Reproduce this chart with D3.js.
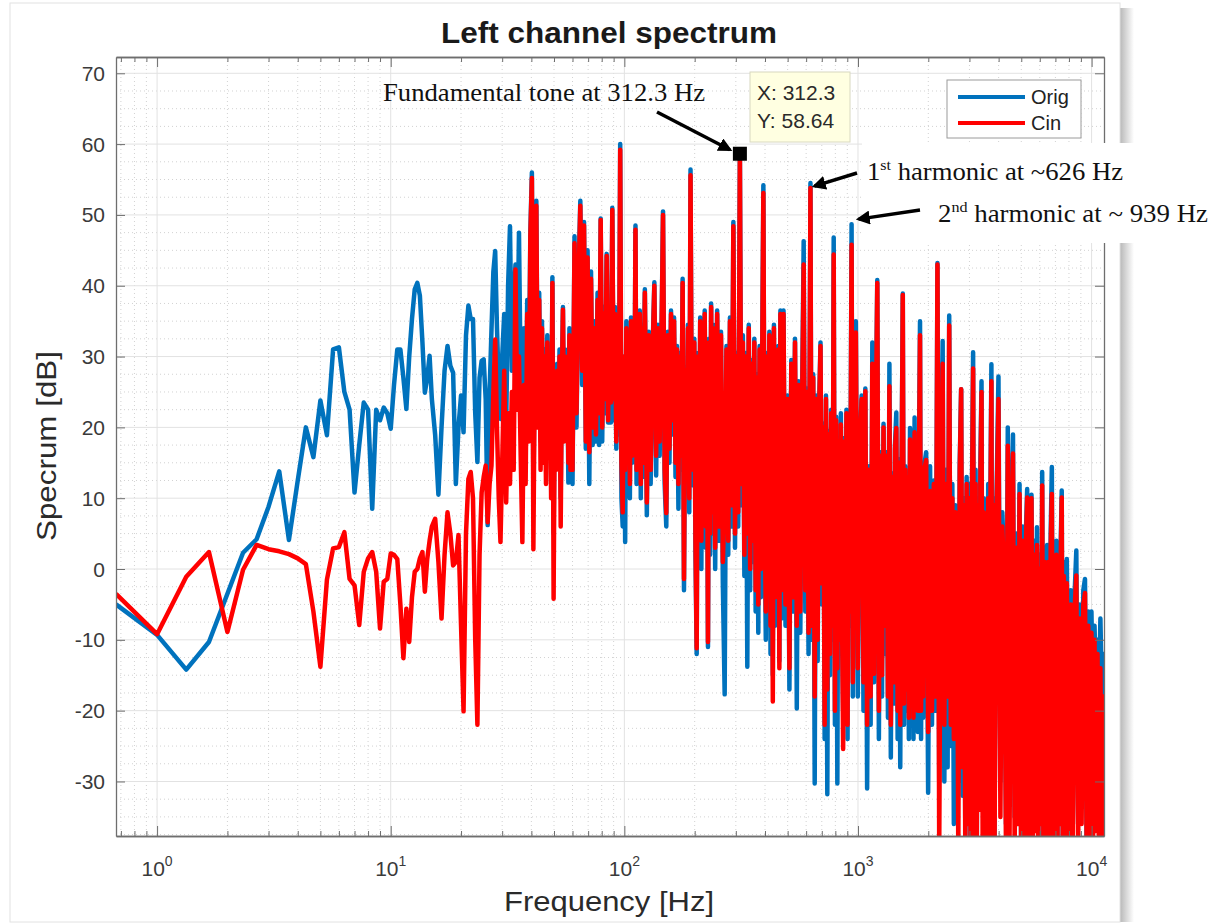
<!DOCTYPE html>
<html>
<head>
<meta charset="utf-8">
<script src="https://cdn.jsdelivr.net/npm/d3@7"></script>
<style>
  html, body { margin: 0; padding: 0; background: #fff; }
  svg { display: block; }
</style>
</head>
<body>
<svg id="chart" width="1227" height="923"></svg>
<script>
// frequency bins [Hz], shared by both spectra
var freqHz = [
  0.667,1,1.333,1.667,2,2.333,2.667,3,3.333,3.667,4,4.333,4.667,5,5.333,5.667,6,6.333,6.667,7,7.333,7.667,8,8.333,8.667,9,9.333,9.667,10,10.33,10.67,11,11.33,11.67,12,12.33,12.67,13,13.33,13.67,14,14.33,14.67,15,
  15.5,16,16.5,17,17.5,18,18.5,19,19.5,20,20.5,21,21.5,22,22.5,23,23.5,24,24.5,25,25.5,26,26.5,27,27.5,28,28.5,29,29.5,
  30,30.6,31.2,31.8,32.4,33,33.6,34.2,34.8,35.4,36,36.6,37.2,37.8,38.4,39,39.6,40.2,40.8,41.4,42,42.6,43.2,43.8,44.4,45,45.6,46.2,46.8,47.4,48,48.6,49.2,49.8,50.4,51,51.6,52.2,52.8,53.4,54,54.6,55.2,55.8,56.4,57,57.6,58.2,58.8,59.4,
  60,61.2,62.4,63.6,64.8,66,67.2,68.4,69.6,70.8,72,73.2,74.4,75.6,76.8,78,79.2,80.4,81.6,82.8,84,85.2,86.4,87.6,88.8,90,91.2,92.4,93.6,94.8,96,97.2,98.4,99.6,100.8,102,103.2,104.4,105.6,106.8,108,109.2,110.4,111.6,112.8,114,115.2,116.4,117.6,118.8,
  120,122.4,124.8,127.2,129.6,132,134.4,136.8,139.2,141.6,144,146.4,148.8,151.2,153.6,156,158.4,160.8,163.2,165.6,168,170.4,172.8,175.2,177.6,180,182.4,184.8,187.2,189.6,192,194.4,196.8,199.2,201.6,204,206.4,208.8,211.2,213.6,216,218.4,220.8,223.2,225.6,228,230.4,232.8,235.2,237.6,
  240,244.8,249.6,254.4,259.2,264,268.8,273.6,278.4,283.2,288,292.8,297.6,302.4,307.2,312.3,316.8,321.6,326.4,331.2,336,340.8,345.6,350.4,355.2,360,364.8,369.6,374.4,379.2,384,388.8,393.6,398.4,403.2,408,412.8,417.6,422.4,427.2,432,436.8,441.6,446.4,451.2,456,460.8,465.6,470.4,475.2,
  480,489.6,499.2,508.8,518.4,528,537.6,547.2,556.8,566.4,576,585.6,595.2,604.8,614.4,626,633.6,643.2,652.8,662.4,672,681.6,691.2,700.8,710.4,720,729.6,739.2,748.8,758.4,768,777.6,787.2,796.8,806.4,816,825.6,835.2,844.8,854.4,864,873.6,883.2,892.8,902.4,912,921.6,931.2,939,950.4,
  960,979.2,998.4,1017.6,1036.8,1056,1075.2,1094.4,1113.6,1132.8,1152,1171.2,1190.4,1209.6,1228.8,1248,1267.2,1286.4,1305.6,1324.8,1344,1363.2,1382.4,1401.6,1420.8,1440,1459.2,1478.4,1497.6,1516.8,1536,1555.2,1574.4,1593.6,1612.8,1632,1651.2,1670.4,1689.6,1708.8,1728,1747.2,1766.4,1785.6,1804.8,1824,1843.2,1862.4,1881.6,1900.8,
  1920,1958.4,1996.8,2035.2,2073.6,2112,2150.4,2188.8,2227.2,2265.6,2304,2342.4,2380.8,2419.2,2457.6,2496,2534.4,2572.8,2611.2,2649.6,2688,2726.4,2764.8,2803.2,2841.6,2880,2918.4,2956.8,2995.2,3033.6,3072,3110.4,3148.8,3187.2,3225.6,3264,3302.4,3340.8,3379.2,3417.6,3456,3494.4,3532.8,3571.2,3609.6,3648,3686.4,3724.8,3763.2,3801.6,
  3840,3916.8,3993.6,4070.4,4147.2,4224,4300.8,4377.6,4454.4,4531.2,4608,4684.8,4761.6,4838.4,4915.2,4992,5068.8,5145.6,5222.4,5299.2,5376,5452.8,5529.6,5606.4,5683.2,5760,5836.8,5913.6,5990.4,6067.2,6144,6220.8,6297.6,6374.4,6451.2,6528,6604.8,6681.6,6758.4,6835.2,6912,6988.8,7065.6,7142.4,7219.2,7296,7372.8,7449.6,7526.4,7603.2,
  7680,7833.6,7987.2,8140.8,8294.4,8448,8601.6,8755.2,8908.8,9062.4,9216,9369.6,9523.2,9676.8,9830.4,9984,10137.6,10291.2,10444.8,10598.4,10752,10905.6,11059.2,11212.8,11300
];

// original signal spectrum [dB]
var origDb = [
  -5.0,-9.3,-14.2,-10.3,-3.5,2.3,4.2,8.8,13.8,4.1, 12.5,20,15.8,23.8,18.9,31,31.3,25,22.5,10.8,
  17.5,23.5,22.5,8.5,22.5,21,22.8,22,19.8,26, 31,31,27,22.6,30,35.3,39.5,40.4,38.6,32, 24.9,27,30.1,24,
  18.9,10.5,20,28,31.5,28.7,27.7,12,20,24.5, 19.3,33,37.2,35.3,35.3,22,15.1,27,29.4,29.6, 24,6.2,25,33.8,42,44.9,34,26,21.2,
  30,36,20,40,48.4,28,38,43,30,47.5, 26,20,34,22,38,25,47.5,56,10,32, 52,22,39,18,35,20,31,20,33,19, 29,12,41.2,5,25,15,29,17,31,10, 27,37,19,31,21,28,12.2,34,15,29,
  12,47,20,41,52,26,49,17,45,12, 42,17.5,35,18,39,17.5,49.5,18,37,22, 44.5,20.7,36,20.7,51,21,37,17,34,19, 60,10,6,30,3.8,35,14,32.5,10,35.5, 15,30.5,18,48.5,12,33.5,16,36.5,10,34.5,
  13,39.5,7.6,33.5,12,30.5,40.5,13.2,34.5,16, 31.5,50.5,12,6,33.5,15,36.5,19,35.5,13, 31.5,8.5,30.5,14,41,-3,28.5,11,34.5,8, 56.4,16,11.8,32.5,2,-12,30.5,5,35.5,0, 31.5,7,36.5,3,29.5,-11,32.5,2,37.5,5,
  34.5,0,36.5,4,33.5,-2,-17.7,31.5,2,35.5, 6,49,3,30.5,6,58.7,9,33,-1,30.5, -13.8,34.5,-3,29.5,1,32.5,-6,27.5,-9,31.5, -4,28.5,54.2,6,-10,30.5,-5,33.5,-12,26.5, -15,34.5,-8,29.5,-2,31.5,-13,36.5,-7,28.5,
  36.5,-8,24.5,-17,29.5,-6,32.5,-19.7,26.5,-9, 22.5,46.3,-6,25.5,-12,54.5,-10,27.5,-30.3,24.5, -13,22.5,32,-5,20.5,-24,24.5,-31.8,19.5,-15, 22.5,-10,46.8,-22,21.5,-30.3,18.5,-12,22,-8, -20,18.5,-10,22.5,-24,17.5,-8,20.5,48.7,-18,
  14.5,35,-18,17.5,24.5,-20,25.5,-31,14.5,-22, 32,-16,18.5,40.8,-24,16.5,-18,20.5,-12,16.5, -21,29,-26.6,13.5,-19,17.5,22.1,-24,15.5,-28, 12.5,38.9,-22,14.5,-20,13.5,-24,19.9,-21,14.5, -24,21.4,-19,12.5,-23,15.5,35,-24,14.5,-21,
  14.5,16.5,-31.6,14.5,-22,12.5,-20,43.2,-30,12, 32.2,-30,14,-28,35.8,-25,12,-36,9,7, -30,15,25.4,-32,10,-38,13,-30,12,-40, 10,30.6,-30,14,-38,10,-28,14.6,26.5,-33, 10,-27,8,-40,12,-32,8,28.9,-40,10,
  -38,10,27.2,-30,8,1,-36,20,-30,7, 19,-35,5,-25,12,-38,6,-30,4,11.3, -38,3,10.5,-36,4,-30,5.9,-38,2,-32, 13.7,-38,3,-33,3.4,3,-38,5,14.4,-36, 2,-32,4,-38,1.4,-30,3,11.1,-38,1,
  -38,1.4,-35,-3,-38,-4,2.6,-36,-5,-33, -3,-1.4,-38,-6,-22,-6,-20,-8,-16,-10, -18,-7,-17,-12,-18
];

// processed ("Cin") spectrum [dB]
var cinDb = [
  -3.5,-9.2,-1.1,2.4,-8.9,-0.1,3.4,2.8,2.5,2.1, 1.5,0.7,-6,-13.8,-1.5,2.9,3.1,5.2,-1.4,-2.3,
  -7.9,-0.4,1.5,2.4,-0.4,-8.4,-1.8,-1.4,2.2,2.0, 1.4,-5,-12.6,-5.6,-10.3,-4,-0.4,0,1.5,2.4, -3.2,1.4,4,6,
  7.1,1,-7,2,8,5,0.5,1,4.8,-8, -20.1,5,12.7,13.7,10,-10,-22,2,10.8,13, 14.6,6.6,12,14.6,25,32.4,20,10,3.8,
  15,28,9.4,22,12,25,14,42.3,22.5,30, 16,3.8,26,12,36,18,47,55.2,2.8,30, 51.3,20,38,14,34,15,30,12,32,18, 28,10,40.4,-4.2,24,14,28,16,30,6, 26,36.6,18,30,20,27,15,33,14,28,
  14,46,22,40,51.3,28,48.5,18,44,16.5, 41,20,34,19,38,22,49.3,20,36,24, 44.2,21,35,23.5,50.7,24,36,18,33,20, 59.2,15,8,30,14,34,16,32,12,35, 16,30,20,47.9,14,33,18,36,12,34,
  15,39,9.4,33,14,30,40,16,34,18, 31,50,14,7.9,33,17,36,21,35,15, 31,12,30,16,40.4,-1.4,28,13,34,10, 55.6,18,14,32,4,-11.2,30,8,35,4, 31,10,36,6,29,-10.3,32,5,37,8,
  34,3,36,6,33,1,10,31,4,35, 9,48.4,5,30,8,58.6,12,32,2,30, 5,34,0,29,4,32,-3,27,-5,31, 0,28,53.1,8,-6,30,-2,33,-8,26, -18.7,34,-4,29,2,31,-14,36,-3,28,
  36,-5,24,-14,29,-4,32,-8,26,-6, 22,43,-3,25,-9,53.8,-8,27,-18,24, -10,22,31.5,-2,20,-22,24,-17,19,-12, 22,-8,44.4,-20,21,-14,18,-10,20.4,-6, -25.4,18,-8,22,-22,17,-6,20,45.8,-16,
  14,33.4,-14,17,24,-16,25.1,-22,14,-18, 29,-14.8,18,40.4,-20,16,-15,20,-8,16, -18,25.8,-22,13,-16,17,19.9,-20,15,-22, 12,38.7,-19,14,-17,13,-21,18.3,-18,14, -21,19.3,-16,12,-20,15,33,-20,14,-18,
  14,15.4,-23,11,-20,12,-18,43,-40,10, 29,-22,12,-18,34.4,-22,10,-24,8,6.6, -40,14,25.4,-28,9,-40,12,-36,10,-40, 8,28.3,-38,12,-40,9,-34,12,25,-40, 8,-30,6,-40,10,-38,7,26.5,-40,9,
  -40,8,24,-35,6,-1.4,-40,17.4,-38,5, 16.3,-40,3,-36,10.6,-40,4,-38,2,10.1, -40,1,10,-40,2,-37,3.4,-40,0,-36, 11.8,-40,1,-38,-2,1,-40,3,10.6,-40, 0,-38,2,-40,-3,-36,1,10.1,-40,-1,
  -40,-2,-38,-5,-40,-6,-0.9,-40,-7,-36, -5,-3.4,-40,-8,-38,-9,-40,-10,-37,-12, -40,-14,-40,-18,-25
];

var seriesNames = ["Orig", "Cin"];
var seriesColors = ["#0072bd", "#ff0000"];
var xTickValues = [1, 10, 100, 1000, 10000];
var xTickExps = ["0", "1", "2", "3", "4"];
var yTickValues = [-30, -20, -10, 0, 10, 20, 30, 40, 50, 60, 70];
var tipHz = 312.3, tipDb = 58.64;
var tipLines = ["X: 312.3", "Y: 58.64"];

var svg = d3.select("#chart");
var L = 116, T = 57, R = 1104, B = 836;
var x = d3.scaleLog().domain([0.667, 11300]).range([L, R]);
var y = d3.scaleLinear().domain([-37.7, 72.3]).range([B, T]);
var sans = "'Liberation Sans', Arial, Helvetica, sans-serif";
var serif = "'Liberation Serif', 'Times New Roman', serif";

// figure window with a soft shadow on the right
var defs = svg.append("defs");
var sh = defs.append("linearGradient").attr("id", "shade");
sh.append("stop").attr("offset", "0%").attr("stop-color", "#b8b8b8");
sh.append("stop").attr("offset", "100%").attr("stop-color", "#ffffff");
svg.append("rect").attr("x", 1120).attr("y", 8).attr("width", 14).attr("height", 914).attr("fill", "url(#shade)");
svg.append("rect").attr("x", 10).attr("y", 3).attr("width", 1110).attr("height", 919)
  .attr("fill", "#ffffff").attr("stroke", "#e2e2e2");

// grid
var minorX = [];
[-1, 0, 1, 2, 3].forEach(function(e) {
  d3.range(2, 10).forEach(function(k) {
    var v = k * Math.pow(10, e);
    if (v > 0.667 && v < 11300) minorX.push(v);
  });
});
var minorY = d3.range(-37.5, 72.3, 2.5).filter(function(v) { return v % 10 !== 0; });

var grid = svg.append("g");
grid.selectAll(".mx").data(minorX).enter().append("line")
  .attr("x1", x).attr("x2", x).attr("y1", T).attr("y2", B)
  .attr("stroke", "#d2d2d2").attr("stroke-dasharray", "1,3");
grid.selectAll(".my").data(minorY).enter().append("line")
  .attr("x1", L).attr("x2", R).attr("y1", y).attr("y2", y)
  .attr("stroke", "#d2d2d2").attr("stroke-dasharray", "1,3");
grid.selectAll(".gx").data(xTickValues).enter().append("line")
  .attr("x1", x).attr("x2", x).attr("y1", T).attr("y2", B)
  .attr("stroke", "#e2e2e2");
grid.selectAll(".gy").data(yTickValues).enter().append("line")
  .attr("x1", L).attr("x2", R).attr("y1", y).attr("y2", y)
  .attr("stroke", "#e2e2e2");

// spectra
defs.append("clipPath").attr("id", "plotclip").append("rect")
  .attr("x", L).attr("y", T).attr("width", R - L).attr("height", B - T);
var line = d3.line()
  .x(function(d) { return x(d.f); })
  .y(function(d) { return y(d.v); });
var series = [origDb, cinDb].map(function(vals) {
  return freqHz.map(function(f, i) { return { f: f, v: vals[i] }; });
});
svg.append("g").attr("clip-path", "url(#plotclip)")
  .selectAll("path").data(series).enter().append("path")
  .attr("d", line)
  .attr("fill", "none")
  .attr("stroke", function(d, i) { return seriesColors[i]; })
  .attr("stroke-width", 4.5)
  .attr("stroke-linejoin", "round");

// axes: box, inward ticks
function styleAxis(g) {
  g.selectAll("path").attr("stroke", "#6e6e6e").attr("stroke-width", 1.3);
  g.selectAll("line").attr("stroke", "#6e6e6e");
  g.selectAll("text").remove();
}
svg.append("g").attr("transform", "translate(0," + B + ")")
  .call(d3.axisBottom(x).tickValues(xTickValues).tickSize(-10).tickSizeOuter(0)).call(styleAxis);
svg.append("g").attr("transform", "translate(0," + B + ")")
  .call(d3.axisBottom(x).tickValues(minorX).tickSize(-5).tickSizeOuter(0)).call(styleAxis);
svg.append("g").attr("transform", "translate(0," + T + ")")
  .call(d3.axisTop(x).tickValues(xTickValues).tickSize(-10).tickSizeOuter(0)).call(styleAxis);
svg.append("g").attr("transform", "translate(0," + T + ")")
  .call(d3.axisTop(x).tickValues(minorX).tickSize(-5).tickSizeOuter(0)).call(styleAxis);
svg.append("g").attr("transform", "translate(" + L + ",0)")
  .call(d3.axisLeft(y).tickValues(yTickValues).tickSize(-9).tickSizeOuter(0)).call(styleAxis);
svg.append("g").attr("transform", "translate(" + R + ",0)")
  .call(d3.axisRight(y).tickValues(yTickValues).tickSize(-9).tickSizeOuter(0)).call(styleAxis);

// tick labels
svg.append("g").selectAll("text").data(yTickValues).enter().append("text")
  .attr("x", L - 11).attr("y", y).attr("dy", "0.36em")
  .attr("text-anchor", "end").attr("font-family", sans).attr("font-size", 21)
  .attr("fill", "#3a3a3a").text(function(d) { return d; });
var xl = svg.append("g").selectAll("text").data(xTickValues).enter().append("text")
  .attr("x", x).attr("y", 876).attr("text-anchor", "middle")
  .attr("font-family", sans).attr("font-size", 21).attr("fill", "#3a3a3a");
xl.append("tspan").text("10");
xl.append("tspan").attr("dy", -10).attr("font-size", 14).text(function(d, i) { return xTickExps[i]; });

// titles
svg.append("text").attr("x", 609).attr("y", 43).attr("text-anchor", "middle")
  .attr("font-family", sans).attr("font-size", 29).attr("font-weight", "bold")
  .attr("textLength", 336).attr("lengthAdjust", "spacingAndGlyphs")
  .attr("fill", "#1a1a1a").text("Left channel spectrum");
svg.append("text").attr("x", 609).attr("y", 911).attr("text-anchor", "middle")
  .attr("font-family", sans).attr("font-size", 28)
  .attr("textLength", 210).attr("lengthAdjust", "spacingAndGlyphs")
  .attr("fill", "#2a2a2a").text("Frequency [Hz]");
svg.append("text").attr("transform", "translate(56,446) rotate(-90)").attr("text-anchor", "middle")
  .attr("font-family", sans).attr("font-size", 28)
  .attr("textLength", 190).attr("lengthAdjust", "spacingAndGlyphs")
  .attr("fill", "#2a2a2a").text("Specrum [dB]");

// legend
var lg = svg.append("g").attr("transform", "translate(947,80)");
lg.append("rect").attr("width", 134).attr("height", 58).attr("fill", "#fff").attr("stroke", "#9a9a9a");
seriesNames.forEach(function(n, i) {
  lg.append("line").attr("x1", 11).attr("x2", 78).attr("y1", 17 + i * 26).attr("y2", 17 + i * 26)
    .attr("stroke", seriesColors[i]).attr("stroke-width", 4);
  lg.append("text").attr("x", 84).attr("y", 24 + i * 26).attr("font-family", sans)
    .attr("font-size", 20).attr("fill", "#222").text(n);
});

// data tip
var tx = x(tipHz), ty = y(tipDb);
svg.append("rect").attr("x", 750).attr("y", 72).attr("width", 100).attr("height", 70)
  .attr("fill", "#ffffe1").attr("stroke", "#d8d8c0");
tipLines.forEach(function(t, i) {
  svg.append("text").attr("x", 757).attr("y", 100 + i * 28).attr("font-family", sans)
    .attr("font-size", 21).attr("fill", "#2a2a2a").text(t);
});
svg.append("rect").attr("x", tx - 7).attr("y", ty - 7).attr("width", 14).attr("height", 14).attr("fill", "#000");

// annotations
svg.append("rect").attr("x", 862).attr("y", 143).attr("width", 365).attr("height", 100).attr("fill", "#fff");
defs.append("marker").attr("id", "ah").attr("viewBox", "0 0 10 10").attr("refX", 8).attr("refY", 5)
  .attr("markerWidth", 4).attr("markerHeight", 4).attr("orient", "auto")
  .append("path").attr("d", "M0,0 L10,5 L0,10 z").attr("fill", "#000");
function arrow(x1, y1, x2, y2) {
  svg.append("line").attr("x1", x1).attr("y1", y1).attr("x2", x2).attr("y2", y2)
    .attr("stroke", "#000").attr("stroke-width", 3.5).attr("marker-end", "url(#ah)");
}
arrow(657, 112, tx - 10, ty - 4);
arrow(857, 173, x(626) + 4, y(54.5) + 3);
arrow(920, 210, x(939) + 7, y(48.7) - 5);

svg.append("text").attr("x", 383).attr("y", 101).attr("font-family", serif).attr("font-size", 25)
  .attr("fill", "#111").attr("textLength", 322).attr("lengthAdjust", "spacingAndGlyphs")
  .text("Fundamental tone at 312.3 Hz");
var h1 = svg.append("text").attr("x", 867).attr("y", 180).attr("font-family", serif)
  .attr("font-size", 25).attr("fill", "#111")
  .attr("textLength", 256).attr("lengthAdjust", "spacingAndGlyphs");
h1.append("tspan").text("1");
h1.append("tspan").attr("dy", -10).attr("font-size", 15).text("st");
h1.append("tspan").attr("dy", 10).text(" harmonic at ~626 Hz");
var h2 = svg.append("text").attr("x", 938).attr("y", 222).attr("font-family", serif)
  .attr("font-size", 25).attr("fill", "#111")
  .attr("textLength", 270).attr("lengthAdjust", "spacingAndGlyphs");
h2.append("tspan").text("2");
h2.append("tspan").attr("dy", -10).attr("font-size", 15).text("nd");
h2.append("tspan").attr("dy", 10).text(" harmonic at ~ 939 Hz");
</script>
</body>
</html>
